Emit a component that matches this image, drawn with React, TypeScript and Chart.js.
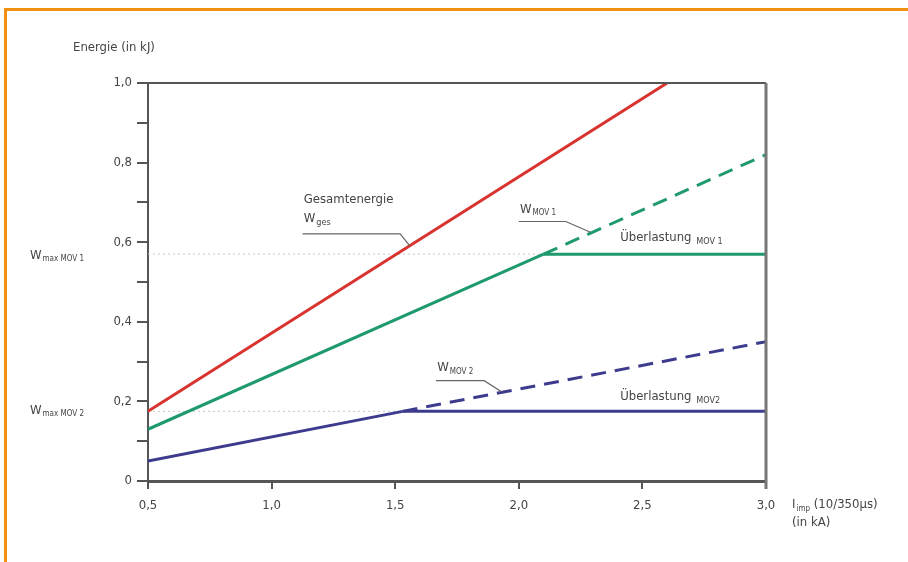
import React, { useEffect, useRef } from "react";
import { Chart, registerables } from "chart.js";

Chart.register(...registerables);

// ---- data ----
const xTicks = [0.5, 1.0, 1.5, 2.0, 2.5, 3.0];
const yTicks = [0, 0.2, 0.4, 0.6, 0.8, 1.0];

const totalX = [0.5, 2.6];
const totalY = [0.175, 1.0];

const mov1X = [0.5, 2.1];
const mov1Y = [0.13, 0.57];
const mov1DashX = [2.1, 3.0];
const mov1DashY = [0.57, 0.82];
const mov1LimitX = [2.1, 3.0];
const mov1LimitY = [0.57, 0.57];

const mov2X = [0.5, 1.53];
const mov2Y = [0.05, 0.175];
const mov2DashX = [1.53, 3.0];
const mov2DashY = [0.175, 0.35];
const mov2LimitX = [1.53, 3.0];
const mov2LimitY = [0.175, 0.175];

const wMax1 = 0.57;
const wMax2 = 0.175;

const RED = "#d8332f";
const GREEN = "#1e9a6c";
const BLUE = "#3d3b8e";
const TEXT = "#444444";
const AXIS = "#555555";
const FONT = "'Liberation Sans Narrow', 'DejaVu Sans Condensed', 'Liberation Sans', sans-serif";

const pts = (xs: number[], ys: number[]) => xs.map((x, i) => ({ x, y: ys[i] }));
const fmt = (v: number) => (Math.abs(v) < 1e-9 ? "0" : v.toFixed(1).replace(".", ","));

function drawSub(ctx: CanvasRenderingContext2D, x: number, y: number, main: string, sub: string, size = 13, subSize = 8) {
  ctx.font = `${size}px ${FONT}`;
  ctx.textBaseline = "middle";
  ctx.textAlign = "left";
  ctx.fillText(main, x, y);
  const w = ctx.measureText(main).width;
  ctx.font = `${subSize}px ${FONT}`;
  ctx.fillText(sub, x + w + 1, y + 4);
  return w + 1 + ctx.measureText(sub).width;
}

const decor = {
  id: "decor",
  beforeDraw(chart: any) {
    const ctx = chart.ctx as CanvasRenderingContext2D;
    ctx.save();
    ctx.fillStyle = "#ffffff";
    ctx.fillRect(0, 0, chart.width, chart.height);
    ctx.strokeStyle = "#f29111";
    ctx.lineWidth = 3;
    ctx.beginPath();
    ctx.moveTo(5.5, chart.height);
    ctx.lineTo(5.5, 9.5);
    ctx.lineTo(chart.width, 9.5);
    ctx.stroke();
    ctx.restore();
  },
  afterDraw(chart: any) {
    const ctx = chart.ctx as CanvasRenderingContext2D;
    const xs = chart.scales.x;
    const ys = chart.scales.y;
    const a = chart.chartArea;
    const X = (v: number) => xs.getPixelForValue(v);
    const Y = (v: number) => ys.getPixelForValue(v);
    ctx.save();
    // frame top and right
    ctx.strokeStyle = AXIS;
    ctx.lineWidth = 2;
    ctx.beginPath();
    ctx.moveTo(a.left, a.top);
    ctx.lineTo(a.right, a.top);
    ctx.stroke();
    ctx.strokeStyle = "#777";
    ctx.lineWidth = 3;
    ctx.beginPath();
    ctx.moveTo(a.right, a.top);
    ctx.lineTo(a.right, a.bottom + 8);
    ctx.stroke();

    ctx.fillStyle = TEXT;
    // axis titles
    ctx.font = `13px ${FONT}`;
    ctx.textBaseline = "middle";
    ctx.textAlign = "left";
    ctx.fillText("Energie (in kJ)", 73, 48);
    const w = drawSub(ctx, a.right + 26, a.bottom + 24, "I", "imp");
    ctx.font = `13px ${FONT}`;
    ctx.fillText(" (10/350µs)", a.right + 26 + w, a.bottom + 24);
    ctx.fillText("(in kA)", a.right + 26, a.bottom + 42);

    // W max labels
    drawSub(ctx, 30, Y(wMax1) + 1, "W", "max MOV 1", 13, 8);
    drawSub(ctx, 30, Y(wMax2) - 1, "W", "max MOV 2", 13, 8);

    // leader lines
    ctx.strokeStyle = "#666";
    ctx.lineWidth = 1.2;
    const leader = (x0: number, x1: number, yv: number, xe: number, ye: number) => {
      ctx.beginPath();
      ctx.moveTo(X(x0), Y(yv));
      ctx.lineTo(X(x1), Y(yv));
      ctx.lineTo(X(xe), Y(ye));
      ctx.stroke();
    };
    // Gesamtenergie
    ctx.font = `13px ${FONT}`;
    ctx.fillText("Gesamtenergie", X(1.13), Y(0.706));
    drawSub(ctx, X(1.13), Y(0.66), "W", "ges", 13, 9);
    leader(1.125, 1.52, 0.621, 1.56, 0.59);

    // W MOV 1
    drawSub(ctx, X(2.005), Y(0.683), "W", "MOV 1", 13, 8);
    leader(2.0, 2.19, 0.652, 2.29, 0.625);
    // Überlastung MOV 1
    drawSub(ctx, X(2.41), Y(0.612), "Überlastung ", "MOV 1", 13, 9);

    // W MOV 2
    drawSub(ctx, X(1.67), Y(0.285), "W", "MOV 2", 13, 8);
    leader(1.665, 1.86, 0.252, 1.93, 0.224);
    // Überlastung MOV2
    drawSub(ctx, X(2.41), Y(0.211), "Überlastung ", "MOV2", 13, 9);
    ctx.restore();
  },
};

export default function App() {
  const ref = useRef<HTMLCanvasElement | null>(null);
  useEffect(() => {
    if (!ref.current) return;
    const line = (data: any[], color: string, extra: any = {}) => ({
      data,
      borderColor: color,
      backgroundColor: color,
      borderWidth: 3,
      pointRadius: 0,
      fill: false,
      tension: 0,
      ...extra,
    });
    const chart = new Chart(ref.current, {
      type: "line",
      data: {
        datasets: [
          line(pts(totalX, totalY), RED),
          line(pts(mov1X, mov1Y), GREEN),
          line(pts(mov1DashX, mov1DashY), GREEN, { borderDash: [15, 9] }),
          line(pts(mov1LimitX, mov1LimitY), GREEN),
          line(pts(mov2X, mov2Y), BLUE),
          line(pts(mov2DashX, mov2DashY), BLUE, { borderDash: [15, 9] }),
          line(pts(mov2LimitX, mov2LimitY), BLUE),
          line(pts([xTicks[0], xTicks[xTicks.length - 1]], [wMax1, wMax1]), "#c8c8c8", { borderWidth: 1, borderDash: [2, 3] }),
          line(pts([xTicks[0], xTicks[xTicks.length - 1]], [wMax2, wMax2]), "#c8c8c8", { borderWidth: 1, borderDash: [2, 3] }),
        ],
      },
      options: {
        responsive: false,
        animation: false,
        devicePixelRatio: 1,
        layout: { padding: { top: 83, right: 142, left: 0, bottom: 0 } },
        plugins: { legend: { display: false }, tooltip: { enabled: false } },
        scales: {
          x: {
            type: "linear",
            min: xTicks[0],
            max: xTicks[xTicks.length - 1],
            afterFit: (s: any) => { s.height = 81; },
            afterBuildTicks: (s: any) => { s.ticks = xTicks.map((v) => ({ value: v })); },
            border: { color: AXIS, width: 3 },
            grid: { drawOnChartArea: false, drawTicks: true, tickLength: 8, color: AXIS, lineWidth: 2 },
            ticks: {
              color: TEXT,
              padding: 9,
              font: { family: FONT, size: 13 },
              callback: (v: any) => fmt(Number(v)),
              maxRotation: 0,
            },
          },
          y: {
            type: "linear",
            min: yTicks[0],
            max: yTicks[yTicks.length - 1],
            afterFit: (s: any) => { s.width = 148; },
            afterBuildTicks: (s: any) => {
              const t: any[] = [];
              for (let i = 0; i < yTicks.length; i++) {
                t.push({ value: yTicks[i] });
                if (i < yTicks.length - 1) t.push({ value: (yTicks[i] + yTicks[i + 1]) / 2, minor: true });
              }
              s.ticks = t;
            },
            border: { color: AXIS, width: 2 },
            grid: { drawOnChartArea: false, drawTicks: true, tickLength: 11, color: AXIS, lineWidth: 2 },
            ticks: {
              color: TEXT,
              padding: 5,
              font: { family: FONT, size: 13 },
              callback: (v: any) => (yTicks.some((t) => Math.abs(t - Number(v)) < 1e-6) ? fmt(Number(v)) : ""),
            },
          },
        },
      },
      plugins: [decor],
    } as any);
    return () => chart.destroy();
  }, []);
  return (
    <div style={{ position: "fixed", left: 0, top: 0, width: 908, height: 562, background: "#fff" }}>
      <canvas ref={ref} width={908} height={562} style={{ display: "block", width: 908, height: 562 }} />
    </div>
  );
}
